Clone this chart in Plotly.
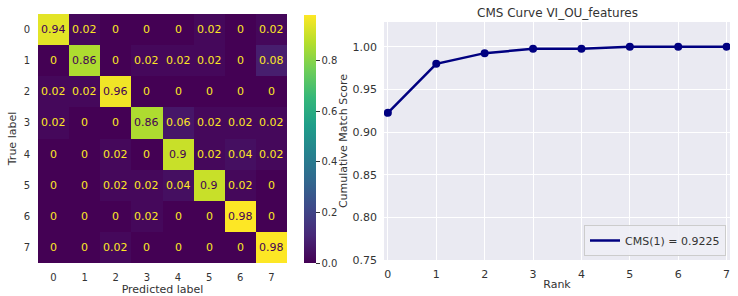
import plotly.graph_objects as go

labels = ["0", "1", "2", "3", "4", "5", "6", "7"]
cm = [
    [0.94, 0.02, 0, 0, 0, 0.02, 0, 0.02],
    [0, 0.86, 0, 0.02, 0.02, 0.02, 0, 0.08],
    [0.02, 0.02, 0.96, 0, 0, 0, 0, 0],
    [0.02, 0, 0, 0.86, 0.06, 0.02, 0.02, 0.02],
    [0, 0, 0.02, 0, 0.9, 0.02, 0.04, 0.02],
    [0, 0, 0.02, 0.02, 0.04, 0.9, 0.02, 0],
    [0, 0, 0, 0.02, 0, 0, 0.98, 0],
    [0, 0, 0.02, 0, 0, 0, 0, 0.98],
]
ranks = [0, 1, 2, 3, 4, 5, 6, 7]
cms = [0.9225, 0.98, 0.9925, 0.9975, 0.9975, 1.0, 1.0, 1.0]

W, H = 738, 296
def px(x): return x / W
def py(y): return 1 - y / H

FONT = "DejaVu Sans"
TXT = "#333333"

fig = go.Figure()
fig.add_trace(go.Heatmap(
    z=cm, x=labels, y=labels, colorscale="Viridis", zmin=0, zmax=0.98,
    xaxis="x", yaxis="y", showscale=True, xgap=0, ygap=0, showlegend=False,
    hoverinfo="skip",
    colorbar=dict(
        x=px(304), xanchor="left", thickness=12, thicknessmode="pixels",
        len=(263 - 15) / H, lenmode="fraction", y=py((263 + 15) / 2), yanchor="middle",
        outlinewidth=0, ticks="outside", ticklen=4, tickcolor=TXT, xpad=0, ypad=0,
        tickvals=[0, 0.2, 0.4, 0.6, 0.8], ticktext=["0.0", "0.2", "0.4", "0.6", "0.8"],
        tickfont=dict(family=FONT, size=10, color=TXT),
    ),
))

annotations = []
for i, row in enumerate(cm):
    for j, v in enumerate(row):
        annotations.append(dict(
            x=labels[j], y=labels[i], xref="x", yref="y", text=f"{v:g}",
            showarrow=False,
            font=dict(family=FONT, size=11, color="#440154" if v > 0.49 else "#fde725"),
        ))

fig.add_trace(go.Scatter(
    x=ranks, y=cms, mode="lines+markers", xaxis="x2", yaxis="y2",
    line=dict(color="#000080", width=2.5), marker=dict(size=8, color="#000080"),
    showlegend=False,
))
fig.add_trace(go.Scatter(
    x=[None], y=[None], mode="lines", xaxis="x2", yaxis="y2",
    line=dict(color="#000080", width=2.5),
    name=f"CMS(1) = {cms[0]}",
))

annotations.append(dict(
    x=px((384 + 730) / 2), y=py(13), xref="paper", yref="paper",
    text="CMS Curve VI_OU_features", showarrow=False,
    font=dict(family=FONT, size=12, color=TXT), xanchor="center", yanchor="middle",
))

fig.update_layout(
    width=W, height=H, margin=dict(l=0, r=0, t=0, b=0, autoexpand=False),
    paper_bgcolor="white", plot_bgcolor="#EAEAF2",
    showlegend=True,
    legend=dict(
        x=px(726), y=py(256), xanchor="right", yanchor="bottom",
        bgcolor="rgba(238,238,245,0.9)", bordercolor="#cccccc", borderwidth=1,
        font=dict(family=FONT, size=11, color=TXT), itemwidth=30,
    ),
    annotations=annotations,
    xaxis=dict(
        domain=[px(38), px(287)], anchor="y", type="category", automargin=False,
        showgrid=False, zeroline=False, ticks="", ticklabelstandoff=7,
        tickfont=dict(family=FONT, size=10, color=TXT),
        title=dict(text="Predicted label", font=dict(family=FONT, size=11, color=TXT), standoff=0),
    ),
    yaxis=dict(
        domain=[py(263), py(14)], anchor="x", type="category", autorange="reversed", automargin=False,
        showgrid=False, zeroline=False, ticks="", ticklabelstandoff=7,
        tickfont=dict(family=FONT, size=10, color=TXT),
        title=dict(text="True label", font=dict(family=FONT, size=11, color=TXT), standoff=4),
    ),
    xaxis2=dict(
        domain=[px(384), px(730)], anchor="y2", range=[-0.08, 7.07], automargin=False,
        tickvals=ranks, showgrid=True, gridcolor="white", gridwidth=1.2, zeroline=False,
        showline=False, ticks="", ticklabelstandoff=6,
        tickfont=dict(family=FONT, size=11, color=TXT),
        title=dict(text="Rank", font=dict(family=FONT, size=11, color=TXT), standoff=0),
    ),
    yaxis2=dict(
        domain=[py(260), py(22)], anchor="x2", range=[0.75, 1.029], automargin=False,
        tickvals=[0.75, 0.80, 0.85, 0.90, 0.95, 1.00], tickformat=".2f",
        showgrid=True, gridcolor="white", gridwidth=1.2, zeroline=False, ticks="", ticklabelstandoff=6,
        tickfont=dict(family=FONT, size=11, color=TXT),
        title=dict(text="Cumulative Match Score", font=dict(family=FONT, size=11, color=TXT), standoff=2),
    ),
)

fig.write_html("out.html", config={"displayModeBar": False},
               post_script="document.body.style.margin='0';")
